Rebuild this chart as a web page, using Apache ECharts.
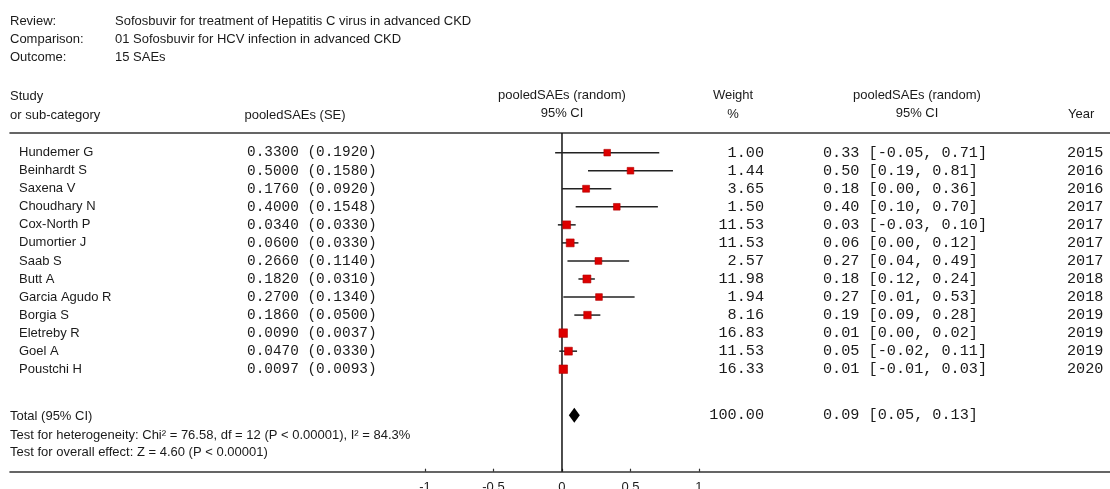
<!DOCTYPE html>
<html>
<head>
<meta charset="utf-8">
<script src="https://cdn.jsdelivr.net/npm/echarts@6/dist/echarts.min.js"></script>
<style>
html,body{margin:0;padding:0;background:#fff;}
#chart{width:1110px;height:489px;}
</style>
</head>
<body>
<div id="chart"></div>
<script>
// ---------- data ----------
const studies = ['Hundemer G','Beinhardt S','Saxena V','Choudhary N','Cox-North P','Dumortier J','Saab S','Butt A','Garcia Agudo R','Borgia S','Eletreby R','Goel A','Poustchi H'];
const estimates = [0.3300,0.5000,0.1760,0.4000,0.0340,0.0600,0.2660,0.1820,0.2700,0.1860,0.0090,0.0470,0.0097];
const standardErrors = [0.1920,0.1580,0.0920,0.1548,0.0330,0.0330,0.1140,0.0310,0.1340,0.0500,0.0037,0.0330,0.0093];
const weights = [1.00,1.44,3.65,1.50,11.53,11.53,2.57,11.98,1.94,8.16,16.83,11.53,16.33];
const ciLow = [-0.05,0.19,0.00,0.10,-0.03,0.00,0.04,0.12,0.01,0.09,0.00,-0.02,-0.01];
const ciHigh = [0.71,0.81,0.36,0.70,0.10,0.12,0.49,0.24,0.53,0.28,0.02,0.11,0.03];
const years = [2015,2016,2016,2017,2017,2017,2017,2018,2018,2019,2019,2019,2020];
const totalEstimate = [0.09];
const totalCiLow = [0.05];
const totalCiHigh = [0.13];
const totalWeight = [100.00];
const xTicks = [-1,-0.5,0,0.5,1];

const totalRow = 14.55;
const SANS = '"Liberation Sans", Arial, sans-serif';
const MONO = '"Liberation Mono", "Courier New", monospace';
const TXT = '#1a1a1a';

const chart = echarts.init(document.getElementById('chart'), null, {renderer:'canvas'});

function fmt2(v){ return v.toFixed(2); }

function headText(text, x, y, align){
  return {type:'text', x:x, y:y, style:{text:text, font:'13px '+SANS, fill:TXT, align:align||'left', verticalAlign:'middle'}, z:10};
}

const graphics = [
  headText('Review:', 10, 21), headText('Sofosbuvir for treatment of Hepatitis C virus in advanced CKD', 115, 21),
  headText('Comparison:', 10, 39), headText('01 Sofosbuvir for HCV infection in advanced CKD', 115, 39),
  headText('Outcome:', 10, 57), headText('15 SAEs', 115, 57),
  headText('Study', 10, 96), headText('or sub-category', 10, 115),
  headText('pooledSAEs (SE)', 295, 115, 'center'),
  headText('pooledSAEs (random)', 562, 95, 'center'), headText('95% CI', 562, 113, 'center'),
  headText('Weight', 733, 95, 'center'), headText('%', 733, 114, 'center'),
  headText('pooledSAEs (random)', 917, 95, 'center'), headText('95% CI', 917, 113, 'center'),
  headText('Year', 1068, 114),
  headText('Total (95% CI)', 10, 416),
  headText('Test for heterogeneity: Chi\u00b2 = 76.58, df = 12 (P < 0.00001), I\u00b2 = 84.3%', 10, 435),
  headText('Test for overall effect: Z = 4.60 (P < 0.00001)', 10, 452)
];

const studyData = studies.map((s,i)=>[estimates[i], i, ciLow[i], ciHigh[i], weights[i]]);

const option = {
  animation:false,
  backgroundColor:'#fff',
  grid:{left:10, right:0, top:133, bottom:17.3, containLabel:false, outerBoundsMode:'none'},
  xAxis:[{
    type:'value', min:-4.029, max:4.0, position:'bottom',
    axisLine:{show:true, onZero:false, lineStyle:{color:'#333', width:1.6}},
    axisTick:{show:true, inside:true, length:3, customValues:xTicks, lineStyle:{color:'#333', width:1.2}},
    axisLabel:{show:true, customValues:xTicks, margin:9, fontSize:13, fontFamily:SANS, color:TXT},
    splitLine:{show:false}
  },{
    type:'value', min:-4.029, max:4.0, position:'top',
    axisLine:{show:true, onZero:false, lineStyle:{color:'#333', width:1.6}},
    axisTick:{show:false}, axisLabel:{show:false}, splitLine:{show:false}
  }],
  yAxis:{type:'value', inverse:true, min:-1.09, max:17.68, show:false},
  graphic:graphics,
  series:[
    {
      type:'line', xAxisIndex:0, data:[[0,-1.09],[0,17.68]], symbol:'none',
      lineStyle:{color:'#111', width:1.5}, z:2, silent:true
    },
    {
      type:'custom', xAxisIndex:0, data:studyData, z:5, silent:true,
      renderItem:function(params, api){
        const i = params.dataIndex;
        const row = api.value(1);
        const pE = api.coord([api.value(0), row]);
        const pL = api.coord([api.value(2), row]);
        const pH = api.coord([api.value(3), row]);
        const y = pE[1];
        const sz = 6.5 + api.value(4)*0.12;
        const mono = '14.4px '+MONO;
        const mono2 = '15.2px '+MONO;
        return {type:'group', children:[
          {type:'line', shape:{x1:pL[0], y1:y, x2:pH[0], y2:y}, style:{stroke:'#222', lineWidth:1.5}},
          {type:'rect', shape:{x:pE[0]-sz/2, y:y-sz/2, width:sz, height:sz}, style:{fill:'#dd0000', stroke:'#b00000', lineWidth:0.6}},
          {type:'text', x:19, y:y, style:{text:studies[i], font:'13px '+SANS, fill:TXT, align:'left', verticalAlign:'middle'}},
          {type:'text', x:247, y:y, style:{text:estimates[i].toFixed(4)+' ('+standardErrors[i].toFixed(4)+')', font:mono, fill:TXT, align:'left', verticalAlign:'middle'}},
          {type:'text', x:764, y:y, style:{text:fmt2(weights[i]), font:mono2, fill:TXT, align:'right', verticalAlign:'middle'}},
          {type:'text', x:823, y:y, style:{text:fmt2(estimates[i])+' ['+fmt2(ciLow[i])+', '+fmt2(ciHigh[i])+']', font:mono2, fill:TXT, align:'left', verticalAlign:'middle'}},
          {type:'text', x:1067, y:y, style:{text:String(years[i]), font:mono2, fill:TXT, align:'left', verticalAlign:'middle'}}
        ]};
      }
    },
    {
      type:'custom', xAxisIndex:0, data:[[totalEstimate[0], totalRow, totalCiLow[0], totalCiHigh[0], totalWeight[0]]], z:5, silent:true,
      renderItem:function(params, api){
        const row = api.value(1);
        const pE = api.coord([api.value(0), row]);
        const pL = api.coord([api.value(2), row]);
        const pH = api.coord([api.value(3), row]);
        const y = pE[1];
        const h = 7.5;
        const mono2 = '15.2px '+MONO;
        return {type:'group', children:[
          {type:'polygon', shape:{points:[[pL[0],y],[pE[0],y-h],[pH[0],y],[pE[0],y+h]]}, style:{fill:'#000'}},
          {type:'text', x:764, y:y, style:{text:fmt2(api.value(4)), font:mono2, fill:TXT, align:'right', verticalAlign:'middle'}},
          {type:'text', x:823, y:y, style:{text:fmt2(api.value(0))+' ['+fmt2(api.value(2))+', '+fmt2(api.value(3))+']', font:mono2, fill:TXT, align:'left', verticalAlign:'middle'}}
        ]};
      }
    }
  ]
};
chart.setOption(option);
</script>
</body>
</html>
